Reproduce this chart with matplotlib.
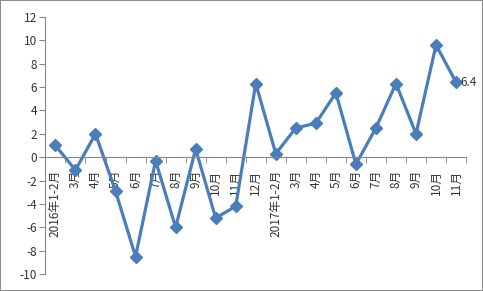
import matplotlib
matplotlib.use("Agg")
import numpy as np
import matplotlib.pyplot as plt

plt.rcParams['font.family'] = ['Noto Sans CJK SC', 'DejaVu Sans']

# ---- data ----
labels = ['2016年1-2月', '3月', '4月', '5月', '6月', '7月', '8月', '9月', '10月', '11月', '12月',
          '2017年1-2月', '3月', '4月', '5月', '6月', '7月', '8月', '9月', '10月', '11月']
values = [1.0, -1.1, 2.0, -2.9, -8.5, -0.3, -6.0, 0.7, -5.2, -4.2, 6.3,
          0.3, 2.5, 2.9, 5.5, -0.6, 2.5, 6.3, 2.0, 9.6, 6.4]
yticks = list(range(-10, 13, 2))

color = '#4A7EBB'
axis_gray = '#868686'

fig = plt.figure(figsize=(4.83, 2.91), dpi=100)
fig.patch.set_edgecolor('#8c8c8c')
fig.patch.set_linewidth(1.2)
ax = fig.add_axes([0.094, 0.058, 0.871, 0.884])

x = np.arange(len(values))
ax.plot(x, values, color=color, lw=2.3, marker='D', ms=6, mfc=color, mec=color)
ax.annotate(f'{values[-1]:.1f}', (x[-1], values[-1]), xytext=(3, 0), textcoords='offset points',
            va='center', ha='left', fontsize=8.5, color='#333333')

ax.set_xlim(-0.5, len(values) - 0.5)
ax.set_ylim(-10, 12)
ax.set_yticks(yticks)
ax.set_yticklabels([str(t) for t in yticks], fontsize=8.5, color='#333333')

for s in ['top', 'right']:
    ax.spines[s].set_visible(False)
ax.spines['left'].set_color(axis_gray)
ax.spines['bottom'].set_color(axis_gray)
ax.spines['bottom'].set_position(('data', 0))

ax.set_xticks(x)
ax.set_xticklabels(labels, rotation=90, fontsize=8.5, color='#333333')
ax.set_xticks(np.arange(-0.5, len(values)), minor=True)
ax.tick_params(axis='x', which='major', length=0, pad=9)
ax.tick_params(axis='x', which='minor', length=4, color=axis_gray)
ax.tick_params(axis='y', length=4, color=axis_gray, pad=2)

fig.savefig('out.png', dpi=100)
